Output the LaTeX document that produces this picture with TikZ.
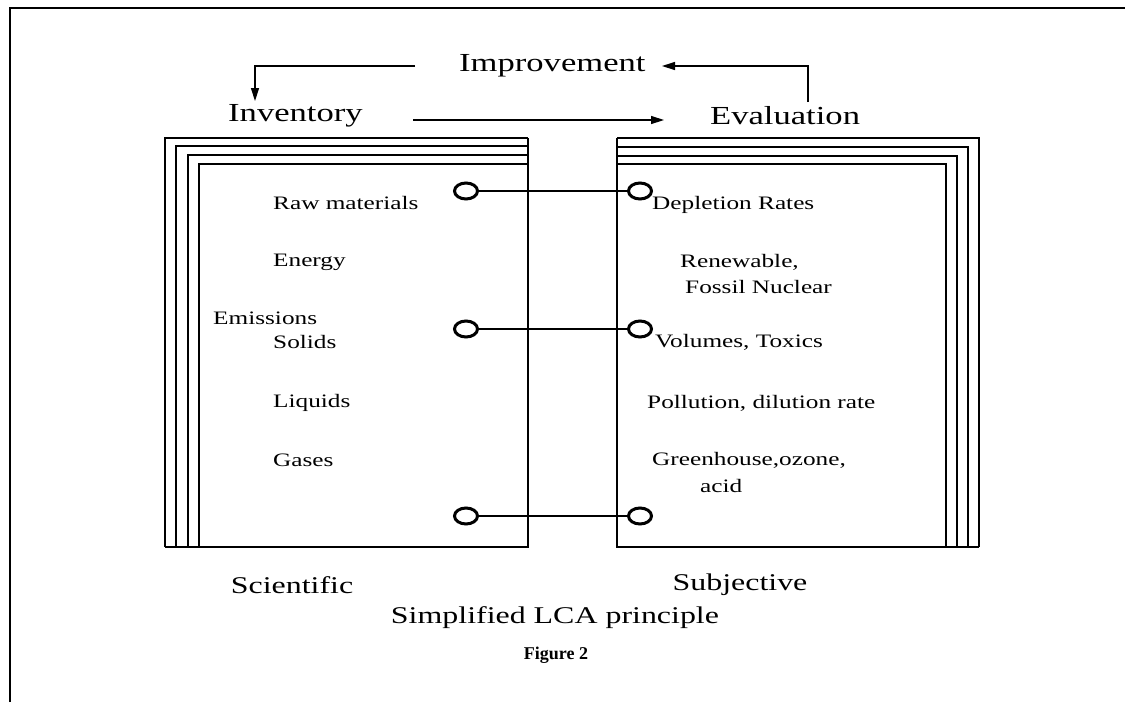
\documentclass[tikz,border=0pt]{standalone}
\usepackage{fontspec}
\setmainfont{Liberation Serif}
\newfontfamily\wideserif[FakeStretch=1.33]{Liberation Serif}
\usetikzlibrary{arrows.meta,shapes.geometric}
\tikzset{
  bigtxt/.style={font=\wideserif\fontsize{26}{30}\selectfont, inner sep=0pt},
  midtxt/.style={font=\wideserif\fontsize{24}{28}\selectfont, inner sep=0pt},
  intxt/.style={font=\wideserif\fontsize{19}{22}\selectfont, inner sep=0pt, anchor=west},
  bookline/.style={line width=2pt},
  flow/.style={line width=1.4pt, -{Triangle[length=13pt,width=8pt]}},
  ring/.style={draw, ellipse, line width=3pt, minimum width=23pt, minimum height=16pt, inner sep=0pt},
  link/.style={line width=2.6pt}
}
\begin{document}
\begin{tikzpicture}[x=1pt,y=-1pt]
\useasboundingbox (0,0) rectangle (1125,702);
% outer frame
\draw[line width=2pt] (10,702) -- (10,8) -- (1125,8);

% left book
\draw[bookline] (165,547) -- (165,138) -- (528,138);
\draw[bookline] (176,547) -- (176,146) -- (528,146);
\draw[bookline] (188,547) -- (188,155) -- (528,155);
\draw[bookline] (199,547) -- (199,164) -- (528,164);
\draw[bookline] (165,547) -- (528,547) -- (528,138);

% right book
\draw[bookline] (979,547) -- (979,138) -- (617,138);
\draw[bookline] (968,547) -- (968,147) -- (617,147);
\draw[bookline] (957,547) -- (957,156) -- (617,156);
\draw[bookline] (946,547) -- (946,164) -- (617,164);
\draw[bookline] (979,547) -- (617,547) -- (617,138);

% headings
\node[bigtxt, anchor=west] (imp) at (459,66) {Improvement};
\node[bigtxt, anchor=west] (inv) at (228,116) {Inventory};
\node[bigtxt, anchor=west] (eva) at (710,116) {Evaluation};

\coordinate (impL) at (415,66);
\coordinate (impR) at (662,66);
\coordinate (invTop) at (255,101);
\coordinate (evaTop) at (808,102);
\coordinate (invR) at (413,120);
\coordinate (evaL) at (664,120);

\draw[flow] (impL) -- (invTop |- impL) -- (invTop);
\draw[flow] (evaTop) -- (evaTop |- impR) -- (impR);
\draw[flow] (invR) -- (evaL);

% left texts
\node[intxt] (raw) at (273,203) {Raw materials};
\node[intxt] (ene) at (273,262) {Energy};
\node[intxt] (emi) at (213,318) {Emissions};
\node[intxt] (sol) at (273,342) {Solids};
\node[intxt] (liq) at (273,403) {Liquids};
\node[intxt] (gas) at (273,460) {Gases};

% right texts
\node[intxt] (dep) at (652,205) {Depletion Rates};
\node[intxt] (ren) at (680,262) {Renewable,};
\node[intxt] (fos) at (685,287) {Fossil Nuclear};
\node[intxt] (vol) at (655,342) {Volumes, Toxics};
\node[intxt] (pol) at (647,403) {Pollution, dilution rate};
\node[intxt] (gre) at (652,460) {Greenhouse,ozone,};
\node[intxt] (aci) at (700,486) {acid};

% rings and links
\node[ring] (l1) at (466,191) {};
\node[ring] (r1) at (640,191) {};
\node[ring] (l2) at (466,329) {};
\node[ring] (r2) at (640,329) {};
\node[ring] (l3) at (466,516) {};
\node[ring] (r3) at (640,516) {};
\draw[link] (l1.east) -- (r1.west);
\draw[link] (l2.east) -- (r2.west);
\draw[link] (l3.east) -- (r3.west);

% bottom labels
\node[midtxt] (sci) at (292,585) {Scientific};
\node[midtxt] (sub) at (740,585) {Subjective};
\node[midtxt] (sim) at (555,618) {Simplified LCA principle};
\node[font=\bfseries\fontsize{18}{21}\selectfont, inner sep=0pt] (fig) at (556,655) {Figure 2};
\end{tikzpicture}
\end{document}
